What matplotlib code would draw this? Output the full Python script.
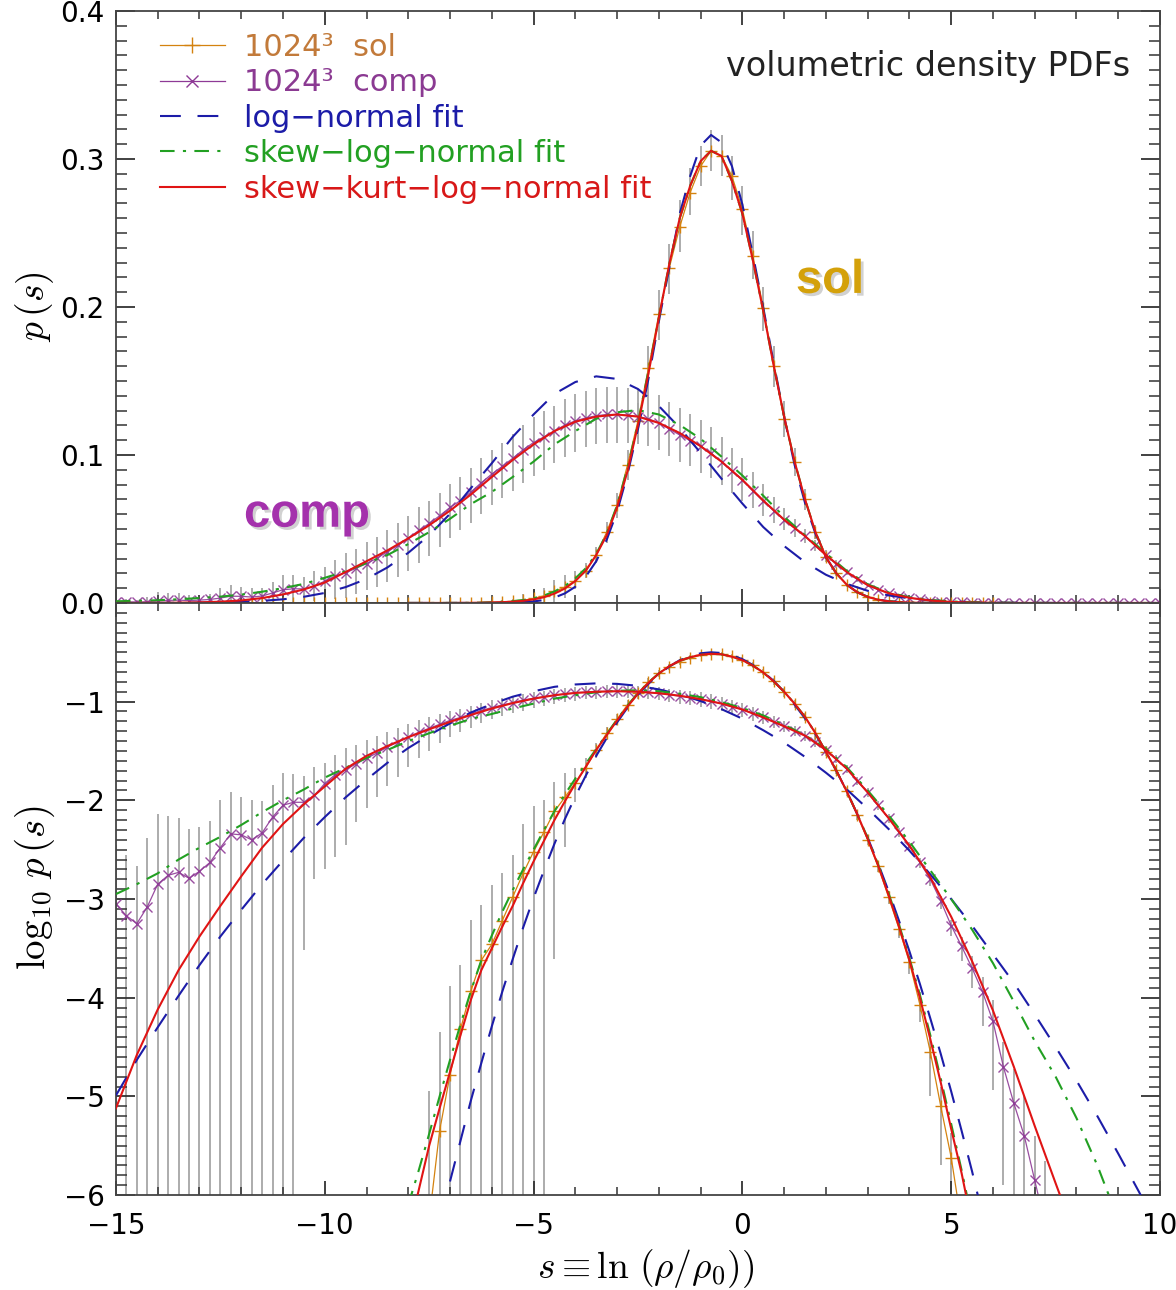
import numpy as np
import matplotlib
matplotlib.use('Agg')
import matplotlib.pyplot as plt
from matplotlib.ticker import MultipleLocator, FixedLocator
from matplotlib.lines import Line2D
import matplotlib.patheffects as pe

plt.rcParams['font.family'] = ['DejaVu Sans']
plt.rcParams['mathtext.fontset'] = 'cm'

# ---------------- data (log10 p(s)) ----------------
s_sol = np.arange(-11.75, 6.0 + 1e-6, 0.25)      # 72 bins
s_comp = np.arange(-15.0, 10.0 + 1e-6, 0.25)     # 101 bins
s_fit_sol = np.arange(-8.0, 6.0 + 1e-6, 0.25)    # 57
s_fit_comp = np.arange(-15.0, 10.0 + 1e-6, 0.5)  # 51

sol_log = np.array([
    -9.5, -9.3, -9.3, -8.9, -8.8, -8.7, -8.3, -8.2, -8.1, -7.8, -7.7, -7.5, -7.4, -7.2, -7.1, -6.9, -6.7,
    -6.25, -5.35, -4.78, -4.32, -3.93, -3.62, -3.46, -3.22, -2.98, -2.74, -2.52, -2.32,
    -2.11, -1.97, -1.82, -1.67, -1.49, -1.32, -1.18, -1.03, -0.91, -0.80, -0.71, -0.645,
    -0.595, -0.557, -0.53, -0.515, -0.52, -0.54, -0.575, -0.63, -0.70, -0.795, -0.905, -1.02,
    -1.155, -1.32, -1.51, -1.69, -1.91, -2.15, -2.40, -2.67, -2.98, -3.30, -3.64, -4.07,
    -4.55, -5.10, -5.62, -6.3, -6.9, -7.4, -7.9])
sol_err_up = np.array([0.3] * 17 + [
    1.30, 1.00, 0.90, 0.65, 0.72, 0.56, 0.60, 0.48, 0.43, 0.50, 0.46, 0.32,
    0.30, 0.25, 0.15, 0.10, 0.07, 0.06, 0.05, 0.045, 0.04, 0.04, 0.035, 0.03,
    0.03, 0.025, 0.02, 0.02, 0.02, 0.02, 0.025, 0.03, 0.03, 0.035, 0.04, 0.04,
    0.04, 0.04, 0.04, 0.04, 0.04, 0.04, 0.045, 0.05, 0.06, 0.08, 0.10, 0.13,
    0.15, 0.20, 0.25, 0.30, 0.30, 0.30, 0.30])
sol_err_dn = np.array([9.0] * 29 + [
    1.5, 0.5, 0.2, 0.1, 0.08, 0.07, 0.06, 0.05, 0.045, 0.045, 0.04, 0.035,
    0.03, 0.025, 0.02, 0.02, 0.02, 0.025, 0.03, 0.03, 0.035, 0.04, 0.045, 0.045,
    0.045, 0.045, 0.045, 0.045, 0.045, 0.05, 0.055, 0.06, 0.07, 0.10, 0.12, 0.18,
    0.45, 0.60, 9.0, 9.0, 9.0, 9.0, 9.0])

comp_log = np.array([
    -3.05, -3.17, -3.25, -3.08, -2.85, -2.76, -2.73, -2.79, -2.72, -2.63, -2.48, -2.34,
    -2.35, -2.40, -2.33, -2.17, -2.05, -2.02, -2.02, -1.95, -1.83, -1.74, -1.69, -1.63,
    -1.575, -1.52, -1.46, -1.41, -1.36, -1.31, -1.27, -1.23, -1.19, -1.16, -1.125, -1.09,
    -1.06, -1.035, -1.01, -0.985, -0.965, -0.95, -0.935, -0.92, -0.91, -0.903, -0.898, -0.895,
    -0.895, -0.897, -0.90, -0.905, -0.915, -0.93, -0.945, -0.96, -0.975, -0.995, -1.02, -1.05,
    -1.08, -1.12, -1.16, -1.205, -1.25, -1.295, -1.345, -1.41, -1.49, -1.58, -1.68, -1.80,
    -1.92, -2.05, -2.18, -2.32, -2.46, -2.63, -2.80, -3.02, -3.27, -3.48, -3.70, -3.94,
    -4.24, -4.70, -5.07, -5.40, -5.85, -6.3, -6.8, -7.3, -7.7, -8.1, -8.6, -9.0,
    -9.5, -9.9, -10.4, -10.9, -11.3])
comp_err_up = np.array([
    0.60, 0.62, 0.58, 0.70, 0.71, 0.60, 0.55, 0.50, 0.45, 0.42, 0.48, 0.42,
    0.38, 0.40, 0.32, 0.33, 0.33, 0.29, 0.27, 0.29, 0.21, 0.20, 0.22, 0.19,
    0.19, 0.17, 0.15, 0.14, 0.13, 0.12, 0.11, 0.10, 0.095, 0.09, 0.085, 0.08,
    0.075, 0.07, 0.068, 0.065, 0.063, 0.062, 0.06, 0.06, 0.06, 0.06, 0.06, 0.06,
    0.06, 0.06, 0.06, 0.06, 0.062, 0.062, 0.065, 0.065, 0.068, 0.07, 0.07, 0.07,
    0.07, 0.068, 0.065, 0.06, 0.055, 0.05, 0.045, 0.04, 0.04, 0.04, 0.04, 0.04,
    0.04, 0.04, 0.04, 0.04, 0.04, 0.045, 0.05, 0.05, 0.06, 0.10, 0.12, 0.15,
    0.22, 0.25, 0.35, 0.40, 0.45, 0.65, 0.3, 0.3, 0.3, 0.3, 0.3, 0.3,
    0.3, 0.3, 0.3, 0.3, 0.3])
comp_err_dn = np.array([9.0] * 18 + [
    1.5, 0.85, 0.87, 0.83, 0.76, 0.59,
    0.50, 0.45, 0.39, 0.35, 0.30, 0.26, 0.23, 0.19, 0.17, 0.15, 0.145, 0.13,
    0.12, 0.115, 0.11, 0.105, 0.10, 0.095, 0.09, 0.085, 0.08, 0.075, 0.072, 0.07,
    0.07, 0.07, 0.07, 0.07, 0.072, 0.072, 0.075, 0.075, 0.08, 0.08, 0.08, 0.08,
    0.08, 0.075, 0.07, 0.065, 0.06, 0.055, 0.05, 0.045, 0.045, 0.045, 0.045, 0.045,
    0.045, 0.045, 0.045, 0.05, 0.05, 0.06, 0.07, 0.08, 0.10, 0.15, 0.20, 0.35,
    0.70, 1.2] + [9.0] * 15)

# fits (log10 p)
blue_sol = np.array([
    -7.71, -7.22, -6.75, -6.30, -5.86, -5.45, -5.04, -4.66, -4.29, -3.94, -3.61, -3.29,
    -2.99, -2.71, -2.44, -2.19, -1.96, -1.75, -1.55, -1.37, -1.21, -1.06, -0.93, -0.82,
    -0.72, -0.645, -0.58, -0.54, -0.51, -0.50, -0.507, -0.53, -0.57, -0.628, -0.70, -0.79,
    -0.90, -1.03, -1.17, -1.33, -1.51, -1.70, -1.91, -2.14, -2.38, -2.64, -2.92, -3.22,
    -3.53, -3.86, -4.21, -4.57, -4.95, -5.35, -5.76, -6.20, -6.64])
green_sol = np.array([
    -6.1, -5.75, -5.38, -5.0, -4.63, -4.27, -3.93, -3.62, -3.37, -3.13, -2.91, -2.70,
    -2.50, -2.30, -2.11, -1.94, -1.78, -1.63, -1.48, -1.33, -1.18, -1.04, -0.915, -0.805,
    -0.715, -0.64, -0.585, -0.55, -0.525, -0.515, -0.52, -0.545, -0.58, -0.635, -0.705, -0.795,
    -0.90, -1.02, -1.155, -1.32, -1.51, -1.70, -1.91, -2.14, -2.38, -2.65, -2.94, -3.26,
    -3.60, -3.97, -4.38, -4.82, -5.28, -5.75, -6.25, -6.75, -7.25])
red_sol = np.array([
    -6.4, -5.95, -5.5, -5.12, -4.75, -4.38, -4.02, -3.72, -3.50, -3.28, -3.07, -2.84,
    -2.62, -2.41, -2.20, -2.01, -1.83, -1.66, -1.49, -1.34, -1.19, -1.05, -0.92, -0.81,
    -0.715, -0.64, -0.585, -0.55, -0.525, -0.515, -0.52, -0.545, -0.58, -0.635, -0.705, -0.795,
    -0.90, -1.02, -1.155, -1.32, -1.51, -1.70, -1.91, -2.14, -2.39, -2.66, -2.96, -3.28,
    -3.62, -4.00, -4.42, -4.86, -5.33, -5.78, -6.3, -6.8, -7.3])

blue_comp = np.array([
    -4.99, -4.63, -4.30, -3.98, -3.67, -3.38, -3.11, -2.85, -2.61, -2.38,
    -2.17, -1.97, -1.79, -1.62, -1.47, -1.34, -1.22, -1.11, -1.025, -0.95,
    -0.895, -0.85, -0.826, -0.815, -0.82, -0.84, -0.876, -0.927, -0.994, -1.076,
    -1.173, -1.29, -1.415, -1.56, -1.72, -1.89, -2.085, -2.29, -2.51, -2.75,
    -3.0, -3.27, -3.56, -3.85, -4.17, -4.50, -4.84, -5.20, -5.58, -5.97,
    -6.38])
green_comp = np.array([
    -2.95, -2.85, -2.74, -2.60, -2.48, -2.37, -2.25, -2.12, -2.00, -1.89,
    -1.77, -1.67, -1.57, -1.49, -1.40, -1.32, -1.245, -1.175, -1.125, -1.07,
    -1.02, -0.97, -0.935, -0.905, -0.89, -0.885, -0.895, -0.92, -0.955, -1.005,
    -1.065, -1.14, -1.235, -1.34, -1.475, -1.665, -1.90, -2.15, -2.42, -2.71,
    -3.00, -3.31, -3.65, -4.04, -4.44, -4.80, -5.22, -5.70, -6.25, -6.8,
    -7.4])
red_comp = np.array([
    -5.12, -4.58, -4.12, -3.72, -3.38, -3.07, -2.77, -2.48, -2.24, -2.04,
    -1.86, -1.68, -1.55, -1.45, -1.36, -1.28, -1.205, -1.135, -1.07, -1.015,
    -0.97, -0.935, -0.912, -0.90, -0.895, -0.90, -0.915, -0.94, -0.975, -1.02,
    -1.08, -1.16, -1.25, -1.345, -1.49, -1.68, -1.92, -2.18, -2.46, -2.78,
    -3.18, -3.63, -4.13, -4.70, -5.30, -5.88, -6.45, -7.0, -7.6, -8.2,
    -8.8])

legend_labels = ['1024\u00b3  sol', '1024\u00b3  comp', 'log\u2212normal fit',
                 'skew\u2212log\u2212normal fit', 'skew\u2212kurt\u2212log\u2212normal fit']

# ---------------- style ----------------
ORANGE = '#D4820F'
PURPLE = '#8E3A96'
BLUE = '#1C1CA8'
GREEN = '#22A022'
RED = '#E01414'
GRAY = '#A6A6A6'
LABEL_COLORS = ['#C27A3A', '#8B3A92', '#1C1CA8', '#22A022', '#D81818']

fig = plt.figure(figsize=(11.76, 12.90), dpi=100)
ax1 = fig.add_axes([0.0986, 0.5326, 0.8878, 0.4589])
ax2 = fig.add_axes([0.0986, 0.0736, 0.8878, 0.4590])


def draw(ax, tf):
    ax.vlines(s_comp, tf(comp_log - comp_err_dn), tf(comp_log + comp_err_up),
              color=GRAY, lw=1.3, zorder=1)
    ax.vlines(s_sol, tf(sol_log - sol_err_dn), tf(sol_log + sol_err_up),
              color=GRAY, lw=1.3, zorder=1)
    ax.plot(s_sol, tf(sol_log), color=ORANGE, lw=0.9, marker='+', ms=9, mew=1.0, zorder=2)
    ax.plot(s_comp, tf(comp_log), color=PURPLE, lw=0.9, marker='x', ms=7.5, mew=1.0,
            alpha=0.9, zorder=2)
    for sx, vals in ((s_fit_sol, blue_sol), (s_fit_comp, blue_comp)):
        ax.plot(sx, tf(vals), color=BLUE, lw=1.5, dashes=(10, 8), zorder=3)
    for sx, vals in ((s_fit_sol, green_sol), (s_fit_comp, green_comp)):
        ax.plot(sx, tf(vals), color=GREEN, lw=1.5, dashes=(7, 4, 1.5, 4), zorder=4)
    for sx, vals in ((s_fit_sol, red_sol), (s_fit_comp, red_comp)):
        ax.plot(sx, tf(vals), color=RED, lw=1.5, zorder=5)


draw(ax1, lambda v: 10.0 ** v)
draw(ax2, lambda v: v)

for ax in (ax1, ax2):
    ax.set_xlim(-15, 10)
    ax.xaxis.set_major_locator(MultipleLocator(5))
    ax.xaxis.set_minor_locator(MultipleLocator(1))
    ax.tick_params(which='both', direction='in', top=True, right=True, colors='#333333',
                   labelcolor='black', labelsize=20)
    ax.tick_params(axis='x', which='major', length=10, width=1.3, pad=12)
    ax.tick_params(axis='x', which='minor', length=6, width=1.1)
    ax.tick_params(axis='y', which='major', length=14, width=1.3, pad=8)
    ax.tick_params(axis='y', which='minor', length=8, width=1.1)
    for sp in ax.spines.values():
        sp.set_linewidth(1.3)
        sp.set_color('#444444')

ax1.set_ylim(0, 0.4)
ax1.yaxis.set_major_locator(MultipleLocator(0.1))
ax1.yaxis.set_minor_locator(MultipleLocator(0.01))
ax1.tick_params(labelbottom=False)

ax2.set_ylim(-6, 0)
ax2.yaxis.set_major_locator(FixedLocator([-6, -5, -4, -3, -2, -1]))
ax2.yaxis.set_minor_locator(MultipleLocator(0.1))

# legend
handles = [
    Line2D([], [], color=ORANGE, lw=0.9, marker='+', ms=11, mew=1.0),
    Line2D([], [], color=PURPLE, lw=0.9, marker='x', ms=8, mew=1.0),
    Line2D([], [], color=BLUE, lw=1.5, dashes=(10, 8)),
    Line2D([], [], color=GREEN, lw=1.5, dashes=(7, 4, 1.5, 4)),
    Line2D([], [], color=RED, lw=1.5),
]
leg = ax1.legend(handles, legend_labels, loc='upper left', bbox_to_anchor=(0.042, 0.963),
                 frameon=False, fontsize=22, handlelength=2.12, handletextpad=0.65,
                 labelspacing=0.21, borderaxespad=0, borderpad=0, numpoints=1)
for t, c in zip(leg.get_texts(), LABEL_COLORS):
    t.set_color(c)

ax1.text(0.971, 0.907, 'volumetric density PDFs', transform=ax1.transAxes,
         ha='right', va='center', fontsize=24, color='#222222')

shadow = [pe.SimplePatchShadow(offset=(2, -2), shadow_rgbFace='#999999', alpha=0.45), pe.Normal()]
ax1.text(0.684, 0.544, 'sol', transform=ax1.transAxes, ha='center', va='center',
         fontsize=34, fontweight='bold', family=['Liberation Sans', 'DejaVu Sans'],
         color='#D4A10A', path_effects=shadow, zorder=6)
ax1.text(0.183, 0.149, 'comp', transform=ax1.transAxes, ha='center', va='center',
         fontsize=34, fontweight='bold', family=['Liberation Sans', 'DejaVu Sans'],
         color='#A431AC', path_effects=shadow, zorder=6)

fig.text(35 / 1176, 1 - 307 / 1290, r'$p\,(s)$', rotation=90, ha='center', va='center', fontsize=27)
fig.text(35 / 1176, 1 - 888 / 1290, r'$\log_{10}\,p\,(s)$', rotation=90, ha='center', va='center',
         fontsize=28)
fig.text(646 / 1176, 1 - 1268 / 1290, r'$s \equiv \ln\,(\rho/\rho_0))$', ha='center', va='center',
         fontsize=27)

fig.savefig('out.png', dpi=100)
